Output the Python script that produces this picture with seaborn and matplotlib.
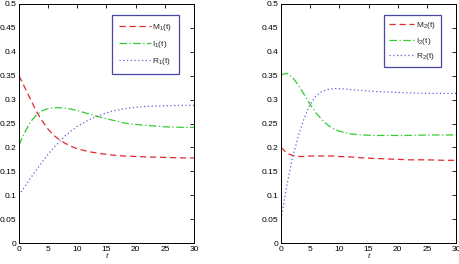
import matplotlib
matplotlib.use("Agg")
import matplotlib.pyplot as plt
import seaborn as sns
import pandas as pd

t = [0, 1, 2, 3, 4, 5, 6, 7, 8, 9, 10, 12, 14, 16, 18, 20, 22, 25, 28, 30]

m1 = [0.350, 0.325, 0.300, 0.275, 0.255, 0.238, 0.225, 0.215, 0.208, 0.202, 0.197, 0.191, 0.187, 0.184, 0.182, 0.181, 0.180, 0.179, 0.178, 0.178]
i1 = [0.205, 0.232, 0.254, 0.268, 0.277, 0.281, 0.283, 0.283, 0.282, 0.280, 0.277, 0.270, 0.263, 0.257, 0.251, 0.248, 0.246, 0.243, 0.242, 0.242]
r1 = [0.100, 0.118, 0.136, 0.153, 0.170, 0.186, 0.200, 0.213, 0.225, 0.235, 0.244, 0.258, 0.268, 0.276, 0.281, 0.284, 0.286, 0.287, 0.288, 0.288]

m2 = [0.200, 0.188, 0.183, 0.181, 0.181, 0.182, 0.182, 0.182, 0.182, 0.182, 0.181, 0.180, 0.178, 0.177, 0.176, 0.175, 0.174, 0.174, 0.173, 0.173]
i2 = [0.352, 0.355, 0.346, 0.330, 0.310, 0.290, 0.272, 0.258, 0.247, 0.239, 0.234, 0.228, 0.226, 0.225, 0.225, 0.225, 0.225, 0.226, 0.226, 0.226]
r2 = [0.050, 0.120, 0.180, 0.225, 0.262, 0.290, 0.308, 0.317, 0.321, 0.323, 0.323, 0.321, 0.319, 0.317, 0.316, 0.315, 0.314, 0.313, 0.313, 0.313]

labels1 = ["M$_1$(t)", "I$_1$(t)", "R$_1$(t)"]
labels2 = ["M$_2$(t)", "I$_2$(t)", "R$_2$(t)"]

sns.set_style("white")
plt.rcParams['font.family'] = ['Liberation Sans', 'DejaVu Sans']
plt.rcParams['mathtext.fontset'] = 'custom'
plt.rcParams['mathtext.rm'] = 'Liberation Sans'

fig = plt.figure(figsize=(4.6, 2.64), dpi=100)
W, H = 460, 264
ax1 = fig.add_axes([19 / W, 1 - 243 / H, 175 / W, 239 / H])
ax2 = fig.add_axes([281 / W, 1 - 243 / H, 175 / W, 239 / H])

colors = ["#e02a2e", "#33cc33", "#6262d8"]
styles = [(0, (5, 3)), (0, (6, 2, 1, 2)), (0, (1, 2))]

legend_opts = {
    "left": dict(handlelength=3.8, labelspacing=0.75, borderpad=0.8),
    "right": dict(handlelength=3.0, labelspacing=0.55, borderpad=0.6),
}

for ax, series, labels, key in [(ax1, [m1, i1, r1], labels1, "left"), (ax2, [m2, i2, r2], labels2, "right")]:
    for s, lab, c, ls in zip(series, labels, colors, styles):
        df = pd.DataFrame({"t": t, "v": s})
        sns.lineplot(data=df, x="t", y="v", ax=ax, color=c, linestyle=ls, linewidth=0.9, label=lab)
    ax.set_xlim(0, 30)
    ax.set_ylim(0, 0.5)
    ax.set_xticks([0, 5, 10, 15, 20, 25, 30])
    ax.set_yticks([0, 0.05, 0.1, 0.15, 0.2, 0.25, 0.3, 0.35, 0.4, 0.45, 0.5])
    ax.set_yticklabels(["0", "0.05", "0.1", "0.15", "0.2", "0.25", "0.3", "0.35", "0.4", "0.45", "0.5"])
    ax.tick_params(direction="in", length=3, width=0.6, labelsize=6, top=True, right=True, pad=2, colors="black")
    for sp in ax.spines.values():
        sp.set_linewidth(0.7)
        sp.set_color("black")
    ax.set_xlabel("t", fontsize=6, style="italic", labelpad=0)
    ax.set_ylabel("")
    leg = ax.legend(loc="upper right", fontsize=6, frameon=True, fancybox=False,
                    edgecolor="#1a1a8c", handletextpad=0.2,
                    bbox_to_anchor=(0.914, 0.954), borderaxespad=0, **legend_opts[key])
    leg.get_frame().set_linewidth(0.9)

fig.savefig("out.png", dpi=100)
